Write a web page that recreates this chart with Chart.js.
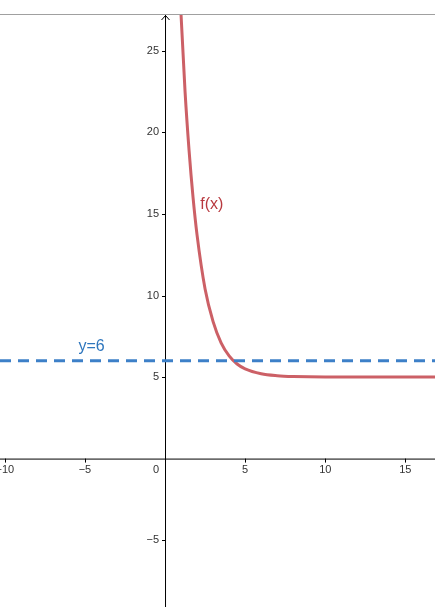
<!DOCTYPE html>
<html><head><meta charset="utf-8">
<script src="https://cdn.jsdelivr.net/npm/chart.js@4"></script>
<style>
html,body{margin:0;padding:0;background:#fff;overflow:hidden}
#top{height:14px;border-bottom:1px solid #a0a0a0;box-sizing:content-box}
#wrap{position:relative;width:435px;height:592px}
</style></head><body>
<div id="top"></div>
<div id="wrap"><canvas id="c"></canvas></div>
<script>
const curveX = [0.9, 1.0, 1.25, 1.5, 1.75, 2, 2.5, 3, 3.5, 4, 4.5, 5, 6, 7, 8, 10, 12, 14, 17];
const curveY = [29.4, 27.2, 22.5, 18.9, 16.0, 13.7, 10.4, 8.4, 7.1, 6.3, 5.8, 5.5, 5.2, 5.08, 5.03, 5.0, 5.0, 5.0, 5.0];
const lineX = [-10.3, 16.9];
const lineY = [6, 6];
const xRange = [-10.3, 16.85];
const yRange = [-9.1, 27.2];
const xTicks = [-10, -5, 5, 10, 15];
const yTicks = [-5, 5, 10, 15, 20, 25];

const fmt = v => String(v).replace('-', '\u2212');
const axes = {
  id: 'axes',
  beforeDatasetsDraw(ch) {
    const c = ch.ctx, xs = ch.scales.x, ys = ch.scales.y, a = ch.chartArea;
    const ox = xs.getPixelForValue(0), oy = ys.getPixelForValue(0);
    c.save();
    c.strokeStyle = '#000'; c.lineWidth = 1;
    c.beginPath();
    c.moveTo(a.left, oy + 0.5); c.lineTo(a.right, oy + 0.5);
    c.moveTo(ox + 0.5, a.top); c.lineTo(ox + 0.5, a.bottom);
    c.moveTo(ox - 3.5, a.top + 5); c.lineTo(ox + 0.5, a.top + 0.5); c.lineTo(ox + 4.5, a.top + 5);
    xTicks.forEach(v => { const p = Math.round(xs.getPixelForValue(v)) + 0.5; c.moveTo(p, oy); c.lineTo(p, oy + 4); });
    yTicks.forEach(v => { const p = Math.round(ys.getPixelForValue(v)) + 0.5; c.moveTo(ox - 3, p); c.lineTo(ox, p); });
    c.stroke();
    c.font = '11px Arial, "Liberation Sans"';
    c.fillStyle = '#333';
    c.textAlign = 'center'; c.textBaseline = 'top';
    xTicks.forEach(v => c.fillText(fmt(v), xs.getPixelForValue(v), oy + 6));
    c.textAlign = 'right'; c.textBaseline = 'middle';
    yTicks.forEach(v => c.fillText(fmt(v), ox - 6, ys.getPixelForValue(v)));
    c.textBaseline = 'top';
    c.fillText('0', ox - 6, oy + 6);
    c.restore();
  },
  afterDraw(ch) {
    const c = ch.ctx, xs = ch.scales.x, ys = ch.scales.y;
    c.save();
    c.font = '16px Arial, "Liberation Sans"';
    c.textAlign = 'left'; c.textBaseline = 'alphabetic';
    c.fillStyle = '#2e76bd';
    c.fillText('y=6', xs.getPixelForValue(-5.4), ys.getPixelForValue(6.6));
    c.fillStyle = '#b8393f';
    c.fillText('f(x)', xs.getPixelForValue(2.2), ys.getPixelForValue(15.3));
    c.restore();
  }
};
new Chart(document.getElementById('c'), {
  type: 'scatter',
  data: {datasets: [
    {data: lineX.map((x, i) => ({x, y: lineY[i]})), showLine: true, borderColor: '#3d80c8', borderWidth: 3, borderDash: [11, 7], pointRadius: 0},
    {data: curveX.map((x, i) => ({x, y: curveY[i]})), showLine: true, borderColor: '#cc6066', borderWidth: 3, pointRadius: 0, cubicInterpolationMode: 'monotone'}
  ]},
  options: {
    responsive: true, maintainAspectRatio: false, animation: false,
    layout: {padding: 0},
    plugins: {legend: {display: false}, tooltip: {enabled: false}},
    scales: {
      x: {type: 'linear', display: false, min: xRange[0], max: xRange[1]},
      y: {type: 'linear', display: false, min: yRange[0], max: yRange[1]}
    }
  },
  plugins: [axes]
});
</script></body></html>
